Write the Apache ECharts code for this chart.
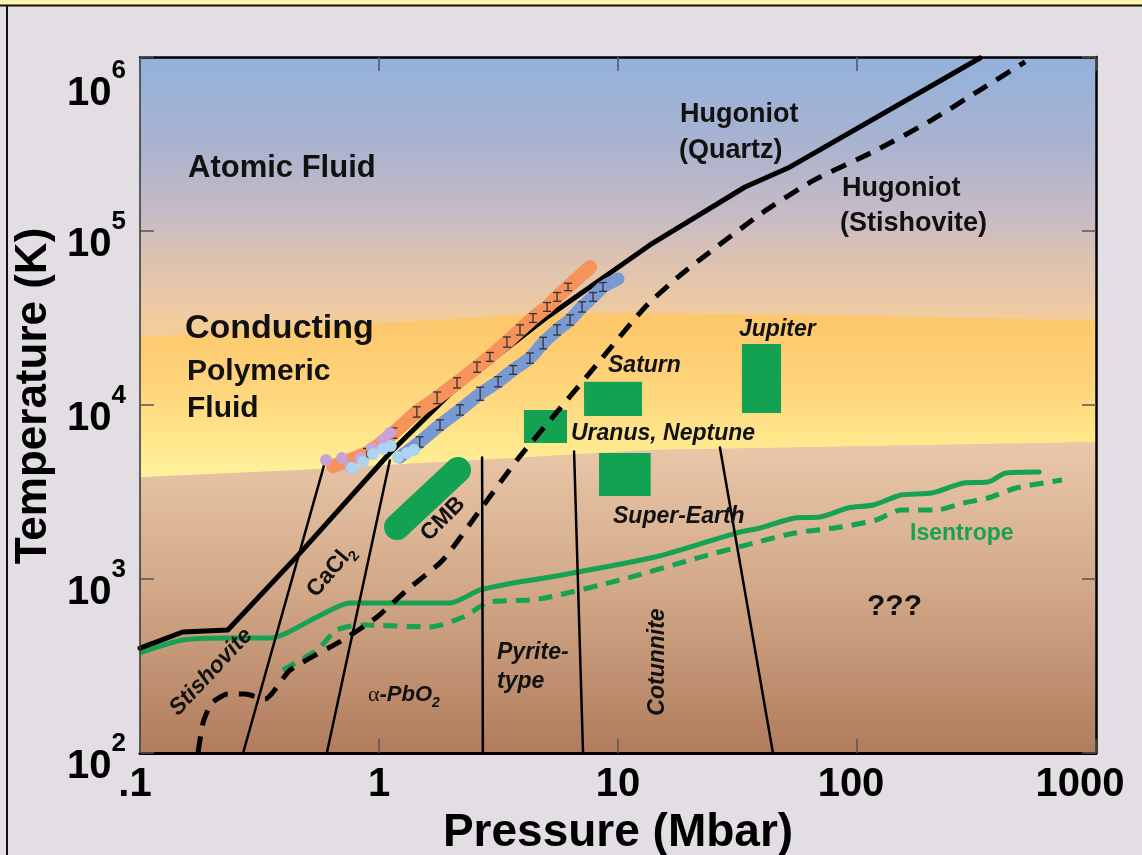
<!DOCTYPE html>
<html>
<head>
<meta charset="utf-8">
<title>SiO2 phase diagram</title>
<script src="https://cdn.jsdelivr.net/npm/echarts@6/dist/echarts.min.js"></script>
<style>
  html, body { margin: 0; padding: 0; background: #e2dee4; }
  #chart { width: 1142px; height: 855px; }
</style>
</head>
<body>
<div id="chart"></div>
<script>
// pressure in Mbar, temperature in K
const xTickLabels = ['.1', '1', '10', '100', '1000'];

// yellow "conducting polymeric fluid" band edges
const bandTopP = [0.1, 0.467, 5.19, 13.6, 57.8, 1000];
const bandTopT = [24600, 27700, 33800, 33800, 32900, 30800];
const bandBottomP = [0.1, 0.467, 4.28, 13.6, 1000];
const bandBottomT = [3850, 4230, 5020, 5510, 6130];

// hugoniots
const quartzP = [0.1, 0.151, 0.233, 0.467, 1.11, 2.12, 5.05, 8.41, 13.6, 34.0, 51.4, 327];
const quartzT = [401, 496, 509, 1409, 5300, 12700, 32000, 52300, 83100, 179000, 230000, 987000];
const stishP = [0.175, 0.184, 0.200, 0.233, 0.275, 0.333, 0.425, 0.706, 0.981, 1.31, 1.85, 2.65, 3.78, 5.56, 8.33, 13.0, 18.7, 40.1, 66.1, 121, 206, 327, 505];
const stishT = [101, 151, 194, 218, 218, 204, 300, 446, 605, 865, 1285, 2495, 4830, 9120, 17700, 36600, 57400, 127000, 196000, 292000, 435000, 646000, 936000];

// isentropes
const isenP = [0.102, 0.151, 0.238, 0.350, 0.551, 0.757, 1.04, 1.98, 2.65, 3.64, 5.19, 14.3, 31.2, 39.3, 55.0, 70.0, 91.6, 117, 153, 206, 280, 353, 420, 578];
const isenT = [380, 446, 458, 458, 605, 728, 728, 728, 865, 948, 1026, 1337, 1837, 1963, 2243, 2270, 2559, 2661, 3041, 3119, 3564, 3608, 4066, 4121];
const isen2P = [0.396, 0.551, 0.667, 0.857, 1.63, 2.25, 2.91, 4.28, 5.19, 10.2, 22.2, 34.3, 55.0, 85.7, 120, 153, 214, 280, 353, 463, 721];
const isen2T = [300, 391, 509, 544, 530, 605, 738, 757, 788, 987, 1337, 1567, 1837, 1990, 2183, 2495, 2495, 2735, 2922, 3333, 3705];

// solid phase boundaries (two ends each)
const boundaryP = [[0.270, 0.594], [0.605, 1.11], [2.72, 2.70], [7.14, 6.55], [44.5, 26.7]];
const boundaryT = [[100, 4700], [100, 4800], [100, 5000], [100, 5400], [100, 5700]];

// planet interiors
const planetNames = ['Uranus, Neptune', 'Saturn', 'Jupiter', 'Super-Earth'];
const planetP = [[4.04, 6.12], [7.21, 12.6], [33.0, 48.1], [8.33, 13.7]];
const planetT = [[6050, 9360], [8650, 13600], [9000, 22400], [3000, 5300]];
const cmbP = [1.19, 2.14];
const cmbT = [1990, 4230];

// shock data
const orangeP = [0.643, 0.891, 1.15, 1.44, 1.75, 2.12, 2.57, 2.91, 3.43, 3.89, 4.41, 5.05, 5.56, 6.18, 7.64];
const orangeT = [4450, 5300, 6900, 9120, 11000, 13400, 16500, 18900, 23000, 27000, 31600, 36600, 41800, 47700, 62100];
const orangeErr = [0, 0.06, 0.07, 0.07, 0.08, 0.07, 0.07, 0.06, 0.07, 0.07, 0.06, 0.06, 0.06, 0.05, 0];
const blueP = [1.22, 1.48, 1.80, 2.18, 2.65, 3.15, 3.64, 4.28, 4.86, 5.56, 6.30, 7.07, 7.86, 8.65, 10.0];
const blueT = [5020, 6130, 7680, 9360, 11600, 13600, 15900, 18600, 22700, 27000, 30800, 36600, 41800, 47700, 53000];
const blueErr = [0, 0.07, 0.07, 0.07, 0.09, 0.07, 0.06, 0.07, 0.08, 0.07, 0.07, 0.07, 0.06, 0.06, 0];
const purpleP = [0.600, 0.700, 0.757, 0.834, 0.935, 1.04, 1.11];
const purpleT = [4830, 4960, 4400, 4960, 5660, 6300, 6900];
const lightP = [0.771, 0.857, 0.944, 1.04, 1.12, 1.20, 1.31, 1.40];
const lightT = [4340, 4720, 5230, 5580, 5810, 5020, 5300, 5510];

const SANS = '"Liberation Sans", Arial, Helvetica, sans-serif';

function zip(a, b) {
  return a.map((v, i) => [v, b[i]]);
}

const regionShapes = [
  [[0.1, 1e6], [1000, 1e6], [1000, 100], [0.1, 100]],
  zip(bandTopP, bandTopT).concat(zip(bandBottomP, bandBottomT).reverse()),
  zip(bandBottomP, bandBottomT).concat([[1000, 100], [0.1, 100]])
];
const regionFills = [
  { from: 1e6, to: 30000, stops: [[0, '#93b1dd'], [0.33, '#a9b3cf'], [0.58, '#c4bbc6'], [0.76, '#dcc2b2'], [0.93, '#ebc9a5'], [1, '#f2cd9c']] },
  { from: 33800, to: 3850, stops: [[0, '#fdc66a'], [0.45, '#fed47b'], [0.8, '#ffe88d'], [1, '#fff29c']] },
  { from: 6130, to: 100, stops: [[0, '#e9c8a9'], [0.45, '#d3aa8a'], [1, '#b07c5d']] }
];

function renderRegion(params, api) {
  const i = api.value(2);
  const pts = regionShapes[i].map(p => api.coord(p));
  const f = regionFills[i];
  const y0 = api.coord([1, f.from])[1];
  const y1 = api.coord([1, f.to])[1];
  const stops = f.stops.map(s => ({ offset: s[0], color: s[1] }));
  return {
    type: 'polygon',
    shape: { points: pts },
    style: { fill: new echarts.graphic.LinearGradient(0, y0, 0, y1, stops, true) }
  };
}

function renderBox(params, api) {
  const a = api.coord([api.value(0), api.value(3)]);
  const b = api.coord([api.value(1), api.value(2)]);
  return {
    type: 'rect',
    shape: { x: a[0], y: a[1], width: b[0] - a[0], height: b[1] - a[1] },
    style: { fill: '#13a152' }
  };
}

function renderErr(params, api) {
  const x = api.value(0);
  const lo = api.coord([x, api.value(1)]);
  const hi = api.coord([x, api.value(2)]);
  const w = 4;
  const st = { stroke: '#333', lineWidth: 1.3 };
  return {
    type: 'group',
    children: [
      { type: 'line', shape: { x1: hi[0], y1: hi[1], x2: lo[0], y2: lo[1] }, style: st },
      { type: 'line', shape: { x1: hi[0] - w, y1: hi[1], x2: hi[0] + w, y2: hi[1] }, style: st },
      { type: 'line', shape: { x1: lo[0] - w, y1: lo[1], x2: lo[0] + w, y2: lo[1] }, style: st }
    ]
  };
}

const errData = [];
[[orangeP, orangeT, orangeErr], [blueP, blueT, blueErr]].forEach(s => {
  s[0].forEach((p, i) => {
    const e = s[2][i];
    if (e > 0) errData.push([p, s[1][i] / (1 + e), s[1][i] * (1 + e)]);
  });
});

function lineSeries(p, t, color, width, extra) {
  return Object.assign({
    type: 'line',
    data: zip(p, t),
    showSymbol: false,
    silent: true,
    lineStyle: { color: color, width: width, cap: 'round', join: 'round' }
  }, extra || {});
}

const series = [
  {
    type: 'custom',
    renderItem: renderRegion,
    data: [[1, 1000, 0], [1, 1000, 1], [1, 1000, 2]],
    encode: { x: 0, y: 1 },
    silent: true,
    z: 1
  },
  {
    type: 'custom',
    renderItem: renderBox,
    data: planetP.map((p, i) => [p[0], p[1], planetT[i][0], planetT[i][1]]),
    encode: { x: [0, 1], y: [2, 3] },
    silent: true,
    z: 2
  },
  lineSeries(cmbP, cmbT, '#13a152', 26, { z: 2 }),
  lineSeries(isenP, isenT, '#17a152', 5, { smooth: 0.25, z: 3 }),
  lineSeries(isen2P, isen2T, '#17a152', 5, { smooth: 0.25, z: 3 }),
];
series[4].lineStyle.type = [14, 9];
series[4].lineStyle.cap = 'butt';

boundaryP.forEach((p, i) => {
  series.push(lineSeries(p, boundaryT[i], '#000', 2.5, { z: 4 }));
});
series.push(lineSeries(quartzP, quartzT, '#000', 5, { z: 5 }));
const stishLine = lineSeries(stishP, stishT, '#000', 5, { z: 5, smooth: 0.2 });
stishLine.lineStyle.type = [16, 11];
stishLine.lineStyle.cap = 'butt';
series.push(stishLine);
series.push(lineSeries(orangeP, orangeT, '#f5935a', 14, { z: 6, smooth: 0.2 }));
series.push(lineSeries(blueP, blueT, '#7899d2', 13, { z: 6, smooth: 0.2 }));
series.push({
  type: 'custom',
  renderItem: renderErr,
  data: errData,
  encode: { x: 0, y: [1, 2] },
  silent: true,
  z: 7
});
series.push({
  type: 'scatter', data: zip(purpleP, purpleT), symbolSize: 12, silent: true, z: 8,
  itemStyle: { color: '#c9a3d8', opacity: 1 }
});
series.push({
  type: 'scatter', data: zip(lightP, lightT), symbolSize: 12, silent: true, z: 8,
  itemStyle: { color: '#aad4f2', opacity: 1 }
});

function txt(text, x, y, size, o) {
  o = o || {};
  return {
    type: 'text', x: x, y: y, rotation: o.rot || 0, z: 100,
    style: {
      text: text,
      fill: o.color || '#111',
      font: (o.italic ? 'italic ' : '') + 'bold ' + size + 'px ' + SANS,
      textAlign: o.align || 'left', align: o.align || 'left',
      textVerticalAlign: 'middle', verticalAlign: 'middle',
      rich: o.rich
    }
  };
}

function richSub(size, italic) {
  const base = { fontSize: size, fontWeight: 'bold', fontStyle: italic ? 'italic' : 'normal', fontFamily: SANS, fill: '#111', color: '#111', lineHeight: size + 2 };
  return {
    n: base,
    a: Object.assign({}, base, { fontFamily: '"Liberation Serif", "DejaVu Serif", serif', fontWeight: 'normal', fontStyle: 'normal' }),
    sub: Object.assign({}, base, { fontSize: Math.round(size * 0.65), lineHeight: 14, padding: [17, 0, 0, 0] })
  };
}

const deg = Math.PI / 180;
const graphics = [
  { type: 'rect', z: 100, shape: { x: 0, y: 0, width: 1142, height: 5 }, style: { fill: '#faf5a8' } },
  { type: 'line', z: 100, shape: { x1: 0, y1: 5.5, x2: 1142, y2: 5.5 }, style: { stroke: '#111', lineWidth: 2 } },
  { type: 'line', z: 100, shape: { x1: 7, y1: 5, x2: 7, y2: 855 }, style: { stroke: '#111', lineWidth: 2 } },
  txt('Atomic Fluid', 188, 168, 31),
  txt('Conducting', 185, 329, 34),
  txt('Polymeric', 187, 372, 30),
  txt('Fluid', 187, 409, 30),
  txt('Hugoniot', 680, 115, 27),
  txt('(Quartz)', 679, 151, 27),
  txt('Hugoniot', 842, 189, 27),
  txt('(Stishovite)', 840, 224, 27),
  txt(planetNames[2], 739, 330, 23, { italic: true }),
  txt(planetNames[1], 608, 366, 23, { italic: true }),
  txt(planetNames[0], 571, 434, 23, { italic: true }),
  txt(planetNames[3], 613, 517, 23, { italic: true }),
  txt('???', 867, 607, 30),
  txt('Isentrope', 910, 534, 23, { color: '#17a152' }),
  txt('Cotunnite', 658, 662, 23, { italic: true, align: 'center', rot: 90 * deg }),
  txt('Pyrite-', 497, 653, 23, { italic: true }),
  txt('type', 497, 682, 23, { italic: true }),
  txt('{a|α}{n|-PbO}{sub|2}', 368, 695, 22, { italic: true, rich: richSub(22, true) }),
  txt('Stishovite', 211, 672, 23, { italic: true, align: 'center', rot: 47 * deg }),
  txt('{n|CaCl}{sub|2}', 331, 571, 23, { align: 'center', rot: 50 * deg, rich: richSub(23, false) }),
  txt('CMB', 443, 519, 23, { align: 'center', rot: 45 * deg })
];

function yLabel(v) {
  const e = Math.round(Math.log10(v));
  if (e === 6) return '{b6|10}{s6|' + e + '}';
  return '{b|10}{s|' + e + '}';
}
function xLabel(v) {
  const e = Math.round(Math.log10(v)) + 1;
  return '{x' + e + '|' + xTickLabels[e] + '}';
}

const bigNum = { fontSize: 40, fontWeight: 'bold', fontFamily: SANS, color: '#000', lineHeight: 40 };
const supNum = { fontSize: 26, fontWeight: 'bold', fontFamily: SANS, color: '#000', lineHeight: 26 };

const tickStyle = { show: true, inside: true, length: 14, lineStyle: { color: '#555', width: 1.5 } };

const chart = echarts.init(document.getElementById('chart'));
chart.setOption({
  animation: false,
  backgroundColor: '#e2dee4',
  grid: { left: 140, right: 46, top: 57, bottom: 102, outerBoundsMode: 'none' },
  xAxis: [
    {
      type: 'log', min: 0.1, max: 1000, z: 10,
      axisLine: { show: true, lineStyle: { color: '#000', width: 3 } },
      axisTick: tickStyle,
      splitLine: { show: false },
      axisLabel: {
        margin: 12, showMinLabel: true, showMaxLabel: true, formatter: xLabel,
        rich: {
          x0: Object.assign({}, bigNum, { padding: [0, 10, 0, 0] }),
          x1: bigNum,
          x2: bigNum,
          x3: Object.assign({}, bigNum, { padding: [0, 12, 0, 0] }),
          x4: Object.assign({}, bigNum, { padding: [0, 32, 0, 0] })
        }
      },
      name: 'Pressure (Mbar)', nameLocation: 'middle', nameGap: 52,
      nameTextStyle: { fontSize: 46, fontWeight: 'bold', fontFamily: SANS, color: '#000' }
    },
    {
      type: 'log', min: 0.1, max: 1000, position: 'top', z: 10,
      axisLine: { show: true, lineStyle: { color: '#000', width: 2.5 } },
      axisTick: tickStyle, axisLabel: { show: false }, splitLine: { show: false }
    }
  ],
  yAxis: [
    {
      type: 'log', min: 100, max: 1e6, z: 10,
      axisLine: { show: true, lineStyle: { color: '#333', width: 1.5 } },
      axisTick: tickStyle,
      splitLine: { show: false },
      axisLabel: {
        margin: 14, showMinLabel: true, showMaxLabel: true, formatter: yLabel,
        rich: {
          b: Object.assign({}, bigNum, { padding: [54, 0, 26, 0] }),
          s: Object.assign({}, supNum, { padding: [38, 0, 56, 0] }),
          b6: Object.assign({}, bigNum, { padding: [77, 0, 3, 0] }),
          s6: Object.assign({}, supNum, { padding: [61, 0, 33, 0] })
        }
      },
      name: 'Temperature (K)', nameLocation: 'middle', nameGap: 80,
      nameTextStyle: { fontSize: 44, fontWeight: 'bold', fontFamily: SANS, color: '#000', padding: [0, 0, 0, 18] }
    },
    {
      type: 'log', min: 100, max: 1e6, position: 'right', z: 10,
      axisLine: { show: true, lineStyle: { color: '#000', width: 2.5 } },
      axisTick: tickStyle, axisLabel: { show: false }, splitLine: { show: false }
    }
  ],
  graphic: graphics,
  series: series
});
</script>
</body>
</html>
